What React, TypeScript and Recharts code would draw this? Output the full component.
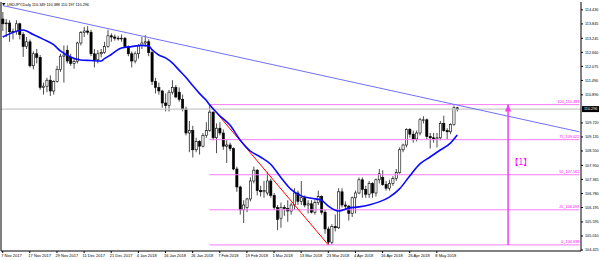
import { Bar, ComposedChart, Line, ReferenceLine, XAxis, YAxis } from 'recharts';

const SYMBOL = 'USDJPY,Daily';

// one label every 8 bars, starting at bar 0
const TICK_LABELS = [
  '7 Nov 2017', '17 Nov 2017', '29 Nov 2017', '11 Dec 2017', '21 Dec 2017', '4 Jan 2018',
  '16 Jan 2018', '26 Jan 2018', '7 Feb 2018', '19 Feb 2018', '1 Mar 2018', '13 Mar 2018',
  '23 Mar 2018', '4 Apr 2018', '16 Apr 2018', '26 Apr 2018', '8 May 2018',
];
const TICK_EVERY = 8;

const OPEN = [
  114.05, 113.85, 113.88, 113.52, 113.53, 113.85, 113.4, 112.9, 113.1, 112.1,
  112.6, 112.45, 111.2, 111.25, 111.5, 111.05, 111.45, 111.95, 112.5, 112.75,
  112.45, 112.2, 112.28, 113.05, 113.48, 113.55, 113.5, 112.6, 112.35, 112.6,
  112.65, 112.9, 113.35, 113.3, 113.25, 113.22, 113.25, 112.9, 112.6, 112.3,
  112.6, 112.95, 113.05, 113.1, 112.65, 111.45, 111.2, 111.05, 110.55, 110.45,
  111.0, 111.2, 111.0, 110.7, 110.3, 109.3, 109.4, 108.6, 108.95, 108.75,
  109.2, 109.4, 110.17, 109.1, 109.5, 109.3, 108.75, 108.8, 108.65, 107.8,
  107.05, 106.1, 106.2, 106.55, 107.3, 107.75, 106.9, 106.85, 106.8, 107.3,
  106.7, 106.2, 105.75, 106.2, 106.15, 106.05, 106.3, 106.8, 106.45, 106.6,
  106.3, 106.35, 106.0, 106.4, 106.65, 106.0, 105.3, 104.75, 105.4, 105.35,
  106.85, 106.3, 106.25, 105.95, 106.6, 106.8, 107.35, 106.95, 106.75, 107.2,
  106.8, 107.35, 107.45, 107.15, 107.0, 107.2, 107.4, 107.65, 108.6, 108.8,
  109.45, 109.25, 109.05, 109.3, 109.85, 109.85, 109.15, 109.1, 109.05, 109.1,
  109.7, 109.4, 109.35, 109.65, 110.349,
];
const HIGH = [
  114.34, 114.05, 114.0, 113.65, 114.0, 113.9, 113.5, 113.3, 113.2, 112.7,
  112.8, 112.55, 111.4, 111.6, 111.7, 111.5, 112.1, 112.6, 112.95, 112.95,
  112.6, 112.4, 113.1, 113.55, 113.72, 113.75, 113.6, 112.8, 112.75, 112.8,
  113.1, 113.6, 113.45, 113.4, 113.35, 113.4, 113.3, 112.95, 112.7, 112.7,
  113.0, 113.3, 113.38, 113.2, 112.8, 111.6, 111.4, 111.1, 110.95, 111.1,
  111.5, 111.3, 111.2, 110.9, 110.4, 109.8, 109.6, 109.1, 109.0, 109.3,
  109.75, 110.48, 110.2, 109.7, 109.75, 109.45, 109.0, 108.9, 108.7, 107.9,
  107.1, 106.5, 106.6, 107.45, 107.9, 107.8, 107.1, 107.3, 107.67, 107.4,
  106.8, 106.3, 106.4, 106.3, 106.5, 106.4, 107.0, 106.9, 107.3, 106.7,
  106.5, 106.5, 106.5, 106.9, 106.7, 106.1, 105.4, 105.5, 105.9, 107.0,
  107.0, 106.45, 106.3, 106.65, 106.9, 107.45, 107.45, 107.1, 107.3, 107.25,
  107.4, 107.8, 107.75, 107.3, 107.35, 107.5, 107.8, 108.7, 108.85, 109.5,
  109.5, 109.4, 109.4, 109.93, 110.0, 109.9, 109.3, 109.3, 109.3, 109.8,
  110.02, 109.5, 109.7, 110.45, 110.388,
];
const LOW = [
  113.55, 113.3, 113.1, 113.2, 113.4, 113.2, 112.47, 112.8, 112.03, 111.95,
  112.2, 111.1, 110.9, 111.0, 110.84, 110.9, 111.4, 111.85, 111.4, 112.2,
  112.1, 111.98, 112.2, 112.95, 113.3, 113.4, 112.5, 112.03, 112.2, 112.45,
  112.6, 112.85, 113.1, 113.15, 113.15, 113.1, 112.85, 112.5, 112.03, 112.2,
  112.4, 112.8, 112.9, 112.5, 111.3, 110.95, 110.9, 110.35, 110.2, 110.2,
  110.9, 110.75, 110.6, 110.2, 109.2, 108.5, 108.28, 108.5, 108.4, 108.7,
  109.1, 109.35, 109.0, 108.46, 109.2, 108.6, 108.05, 108.55, 107.75, 106.85,
  105.9, 105.55, 106.0, 106.45, 107.2, 106.7, 106.65, 106.6, 106.7, 106.6,
  106.1, 105.25, 105.35, 105.85, 105.6, 105.9, 106.1, 106.3, 106.3, 106.2,
  105.95, 105.95, 105.9, 106.3, 105.9, 105.1, 104.64, 104.65, 105.2, 105.3,
  106.2, 106.15, 105.65, 105.8, 105.95, 106.75, 106.6, 106.6, 106.6, 106.6,
  106.65, 107.2, 107.1, 106.9, 106.9, 107.1, 107.3, 107.6, 108.5, 108.7,
  109.1, 108.9, 108.95, 109.2, 109.7, 109.05, 108.65, 108.9, 108.7, 109.0,
  109.35, 109.05, 109.25, 109.6, 110.197,
];
const CLOSE = [
  113.85, 113.88, 113.52, 113.53, 113.85, 113.4, 112.9, 113.1, 112.1, 112.6,
  112.45, 111.2, 111.25, 111.5, 111.05, 111.45, 111.95, 112.5, 112.55, 112.3,
  112.2, 112.28, 113.05, 113.48, 113.55, 113.5, 112.6, 112.35, 112.6, 112.65,
  112.9, 113.35, 113.3, 113.25, 113.22, 113.25, 112.9, 112.6, 112.3, 112.6,
  112.95, 113.05, 113.1, 112.65, 111.45, 111.2, 111.05, 110.55, 110.45, 111.0,
  111.2, 110.8, 110.7, 110.3, 109.3, 109.4, 108.6, 108.95, 108.75, 109.2,
  109.4, 110.17, 109.1, 109.5, 109.3, 108.75, 108.8, 108.65, 107.8, 107.05,
  106.1, 106.3, 106.55, 107.3, 107.75, 106.9, 106.85, 106.9, 107.3, 106.7,
  106.2, 105.7, 106.2, 106.15, 106.05, 106.3, 106.8, 106.45, 106.6, 106.3,
  106.35, 106.0, 106.4, 106.65, 106.0, 105.3, 104.75, 105.4, 105.35, 106.85,
  106.3, 106.25, 105.95, 106.6, 106.8, 107.35, 106.95, 106.75, 107.2, 106.8,
  107.35, 107.6, 107.15, 107.0, 107.2, 107.4, 107.65, 108.6, 108.8, 109.45,
  109.25, 109.05, 109.3, 109.85, 109.85, 109.15, 109.1, 109.05, 109.1, 109.7,
  109.4, 109.35, 109.65, 110.35, 110.296,
];

// moving average: [bar, value]
const MA_POINTS: [number, number][] = [
  [0, 113.3], [2, 113.43], [6, 113.59], [9, 113.4], [12, 113.2], [15, 112.98], [17, 112.72],
  [20, 112.47], [23, 112.34], [26, 112.32], [29, 112.3], [30, 112.4], [32, 112.57], [35, 112.84],
  [38, 112.9], [41, 112.95], [43, 112.93], [44, 112.78], [46, 112.55], [48, 112.43], [50, 112.22],
  [52, 111.92], [54, 111.62], [56, 111.28], [58, 110.95], [60, 110.66], [61, 110.48], [64, 110.02],
  [67, 109.63], [70, 109.01], [73, 108.55], [76, 108.3], [79, 108.0], [82, 107.45], [85, 106.95],
  [88, 106.68], [91, 106.58], [94, 106.5], [96, 106.25], [99, 106.05], [102, 106.17], [105, 106.22],
  [108, 106.3], [111, 106.43], [114, 106.63], [117, 106.97], [120, 107.51], [123, 108.01],
  [126, 108.3], [129, 108.59], [132, 108.88], [134, 109.22],
];

const Y_TICKS = [
  114.43, 113.845, 113.245, 112.66, 112.075, 111.49, 110.89, 109.72, 109.135, 108.55,
  107.95, 107.365, 106.78, 106.195, 105.595, 105.01, 104.425,
];

const FIB_FROM = 61;
const FIB_TO = 96;
const FIB_HIGH = 110.483;
const FIB_LOW = 104.638;
const FIB_LEVELS = [0, 25, 50, 75, 100];
const TREND_START = 114.61;
const TREND_END = 109.35;
const ARROW_BAR = 149;
const ARROW_TEXT = '【1】';
const SLOTS = 171;

const FONT = '"Liberation Sans", Arial, sans-serif';
const FIB_LINE = '#f77cf7';
const FIB_TEXT = '#ff00ff';

const last = CLOSE.length - 1;
const rows = Array.from({ length: SLOTS }, (_, i) => {
  const m = MA_POINTS.find((p) => p[0] === i);
  if (i > last) return { i, ma: null };
  return {
    i,
    range: [LOW[i], HIGH[i]],
    o: OPEN[i],
    h: HIGH[i],
    l: LOW[i],
    c: CLOSE[i],
    ma: m ? m[1] : null,
  };
});

function Candle(props: any) {
  const { x, y, width, height, payload } = props;
  if (!payload || payload.h == null || !isFinite(y)) return null;
  const top = Math.min(y, y + height);
  const span = Math.abs(height);
  const k = payload.h === payload.l ? 0 : span / (payload.h - payload.l);
  const yo = top + (payload.h - payload.o) * k;
  const yc = top + (payload.h - payload.c) * k;
  const cx = x + width / 2;
  const up = payload.c >= payload.o;
  return (
    <g>
      <line x1={cx} x2={cx} y1={top} y2={top + span} stroke="#000" strokeWidth={0.7} />
      <rect
        x={cx - 1.1}
        y={Math.min(yo, yc)}
        width={2.2}
        height={Math.max(Math.abs(yo - yc), 0.6)}
        fill={up ? '#fff' : '#000'}
        stroke="#000"
        strokeWidth={0.6}
      />
    </g>
  );
}

function XTick({ x, y, payload }: any) {
  const label = TICK_LABELS[payload.value / TICK_EVERY];
  return (
    <text x={x - 1.5} y={y + 3} fontSize={4} fontFamily={FONT} fill="#000" textAnchor="start">
      {label}
    </text>
  );
}

function YTick({ x, y, payload }: any) {
  return (
    <text x={x} y={y + 1.4} fontSize={3.8} fontFamily={FONT} fill="#000" textAnchor="start">
      {payload.value.toFixed(3)}
    </text>
  );
}

export default function App() {
  const xTicks = TICK_LABELS.map((_, k) => k * TICK_EVERY);
  const header = `${SYMBOL} ${OPEN[last].toFixed(3)} ${HIGH[last].toFixed(3)} ${LOW[last].toFixed(3)} ${CLOSE[last].toFixed(3)}`;
  return (
    <div style={{ position: 'absolute', left: 0, top: 0, width: 600, height: 260, background: '#fff' }}>
      <ComposedChart width={600} height={260} data={rows} margin={{ top: 2, right: 0, bottom: 0, left: 0 }}>
        <XAxis
          dataKey="i"
          type="category"
          ticks={xTicks}
          interval={0}
          height={9}
          tickSize={2}
          tickMargin={1}
          tick={<XTick />}
          tickLine={{ stroke: '#000' }}
          axisLine={{ stroke: '#000' }}
        />
        <YAxis yAxisId="l" orientation="left" width={1} domain={[0, 1]} tick={false} tickLine={false} axisLine={{ stroke: '#000' }} />
        <YAxis
          yAxisId="p"
          orientation="right"
          width={19}
          domain={[104.383, 114.758]}
          allowDataOverflow
          ticks={Y_TICKS}
          interval={0}
          tickSize={2}
          tickMargin={2}
          tick={<YTick />}
          tickLine={{ stroke: '#000' }}
          axisLine={{ stroke: '#000' }}
        />
        <ReferenceLine
          yAxisId="p"
          y={CLOSE[last]}
          stroke="#c8c8c8"
          strokeWidth={1.2}
          label={({ viewBox }: any) => (
            <g>
              <rect x={viewBox.x + viewBox.width + 1} y={viewBox.y - 3} width={17} height={6} fill="#000" />
              <text x={viewBox.x + viewBox.width + 3} y={viewBox.y + 1.4} fontSize={3.8} fontFamily={FONT} fill="#fff">
                {CLOSE[last].toFixed(3)}
              </text>
            </g>
          )}
        />
        {FIB_LEVELS.map((lv) => {
          const v = FIB_LOW + ((FIB_HIGH - FIB_LOW) * lv) / 100;
          return (
            <ReferenceLine
              key={lv}
              yAxisId="p"
              segment={[{ x: FIB_FROM, y: v }, { x: SLOTS - 1, y: v }]}
              stroke={FIB_LINE}
              strokeWidth={1}
              label={({ viewBox }: any) => (
                <text x={viewBox.x + viewBox.width} y={viewBox.y - 1.5} fontSize={3.8} fontFamily={FONT} fill={FIB_TEXT} textAnchor="end">
                  {`${lv}_${v.toFixed(3)}`}
                </text>
              )}
            />
          );
        })}
        <ReferenceLine
          yAxisId="p"
          segment={[{ x: 0, y: TREND_START }, { x: SLOTS - 1, y: TREND_END }]}
          stroke="#7070ff"
          strokeWidth={1}
        />
        <ReferenceLine
          yAxisId="p"
          segment={[{ x: FIB_FROM, y: FIB_HIGH }, { x: FIB_TO, y: FIB_LOW }]}
          stroke="#ff0000"
          strokeWidth={1}
        />
        <ReferenceLine
          yAxisId="p"
          segment={[{ x: ARROW_BAR, y: FIB_LOW }, { x: ARROW_BAR, y: FIB_HIGH }]}
          stroke="#f040f0"
          strokeWidth={1.5}
          label={({ viewBox }: any) => (
            <g>
              <polygon
                points={`${viewBox.x},${viewBox.y} ${viewBox.x - 3.2},${viewBox.y + 7} ${viewBox.x + 3.2},${viewBox.y + 7}`}
                fill="#f040f0"
              />
              <text
                x={viewBox.x + 2}
                y={viewBox.y + viewBox.height * 0.43}
                fontSize={8.5}
                fontFamily='"Noto Sans CJK JP", sans-serif'
                fill={FIB_TEXT}
              >
                {ARROW_TEXT}
              </text>
            </g>
          )}
        />
        <Bar yAxisId="p" dataKey="range" shape={(p: any) => <Candle {...p} />} isAnimationActive={false} />
        <Line
          yAxisId="p"
          dataKey="ma"
          type="monotone"
          stroke="#0a0aff"
          strokeWidth={1.6}
          dot={false}
          connectNulls
          isAnimationActive={false}
        />
      </ComposedChart>
      <svg width={120} height={10} style={{ position: 'absolute', left: 0, top: 0, pointerEvents: 'none' }}>
        <polygon points="2,3 5.5,3 3.75,5.5" fill="#000" />
        <text x={7} y={6} fontSize={3.8} fontFamily={FONT} fill="#000">
          {header}
        </text>
      </svg>
    </div>
  );
}
